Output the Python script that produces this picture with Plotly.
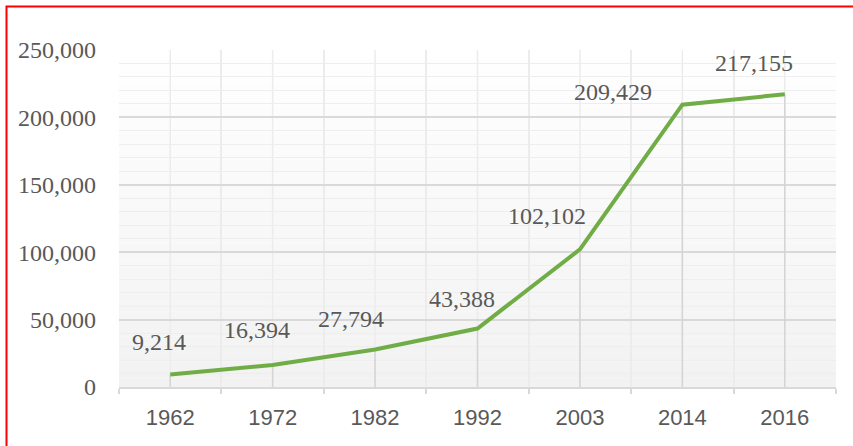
import plotly.graph_objects as go

years = ["1962", "1972", "1982", "1992", "2003", "2014", "2016"]
values = [9214, 16394, 27794, 43388, 102102, 209429, 217155]
label_text = ["9,214", "16,394", "27,794", "43,388", "102,102", "209,429", "217,155"]
label_dx = [-11, -16, -24, -16, -33, -69, -31]
label_dy = [33, 35, 31, 30, 33, 13, 31]

W, H = 853, 446
ML, MR, MT, MB = 119, 17, 50, 59
PW, PH = W - ML - MR, H - MT - MB

fig = go.Figure()

# drop lines
dx, dy = [], []
for c, v in zip(years, values):
    dx += [c, c, None]
    dy += [0, v, None]
fig.add_trace(go.Scatter(x=dx, y=dy, mode="lines",
                         line=dict(color="#d4d4d4", width=1.5),
                         hoverinfo="skip", showlegend=False))

fig.add_trace(go.Scatter(x=years, y=values, mode="lines",
                         line=dict(color="#70AD47", width=4),
                         showlegend=False))

shapes = []
# gradient background
N = 40
for i in range(N):
    t = i / N
    g = int(round(242 + (255 - 242) * t))
    shapes.append(dict(type="rect", xref="paper", yref="paper",
                       x0=0, x1=1, y0=t, y1=(i + 1) / N,
                       fillcolor=f"rgb({g},{g},{g})", line=dict(width=0),
                       layer="below"))
# light center lines for categories
for i, c in enumerate(years):
    shapes.append(dict(type="line", xref="x", yref="paper", x0=i, x1=i,
                       y0=0, y1=1, line=dict(color="#ececec", width=1.5),
                       layer="below"))
# red border
shapes.append(dict(type="rect", xref="paper", yref="paper",
                   x0=(6.5 - ML) / PW, x1=(W + 20 - ML) / PW,
                   y0=-(MB + 20) / PH, y1=(H - MB - 6.5) / PH,
                   line=dict(color="#ff0000", width=2), fillcolor="rgba(0,0,0,0)",
                   layer="above"))

annotations = []
for i, (v, t, ddx, ddy) in enumerate(zip(values, label_text, label_dx, label_dy)):
    annotations.append(dict(x=i, y=v, xref="x", yref="y", text=t, showarrow=False,
                            xshift=ddx, yshift=ddy,
                            font=dict(family="Liberation Serif", size=24, color="#595959")))

fig.update_layout(
    width=W, height=H,
    margin=dict(l=ML, r=MR, t=MT, b=MB),
    paper_bgcolor="white", plot_bgcolor="rgba(0,0,0,0)",
    shapes=shapes, annotations=annotations,
    xaxis=dict(type="category", tickson="boundaries", showgrid=True,
               gridcolor="#ececec", gridwidth=1.5,
               showline=True, linecolor="#d9d9d9", linewidth=1.5,
               ticks="outside", ticklen=5, tickcolor="#d9d9d9", tickwidth=1.5,
               ticklabelstandoff=10,
               tickfont=dict(family="Liberation Sans", size=22, color="#595959"),
               range=[-0.5, 6.5], fixedrange=True),
    yaxis=dict(range=[0, 250000], dtick=50000, tickformat=",",
               showgrid=True, gridcolor="#d9d9d9", gridwidth=1.5,
               zeroline=False, showline=False, ticks="",
               ticklabelstandoff=22,
               minor=dict(dtick=10000, showgrid=True, gridcolor="#eeeeee", gridwidth=1),
               tickfont=dict(family="Liberation Serif", size=24, color="#595959"),
               fixedrange=True),
)

fig.write_html("out.html", config={"displayModeBar": False},
               post_script="document.body.style.margin='0';document.body.style.overflow='hidden';")
